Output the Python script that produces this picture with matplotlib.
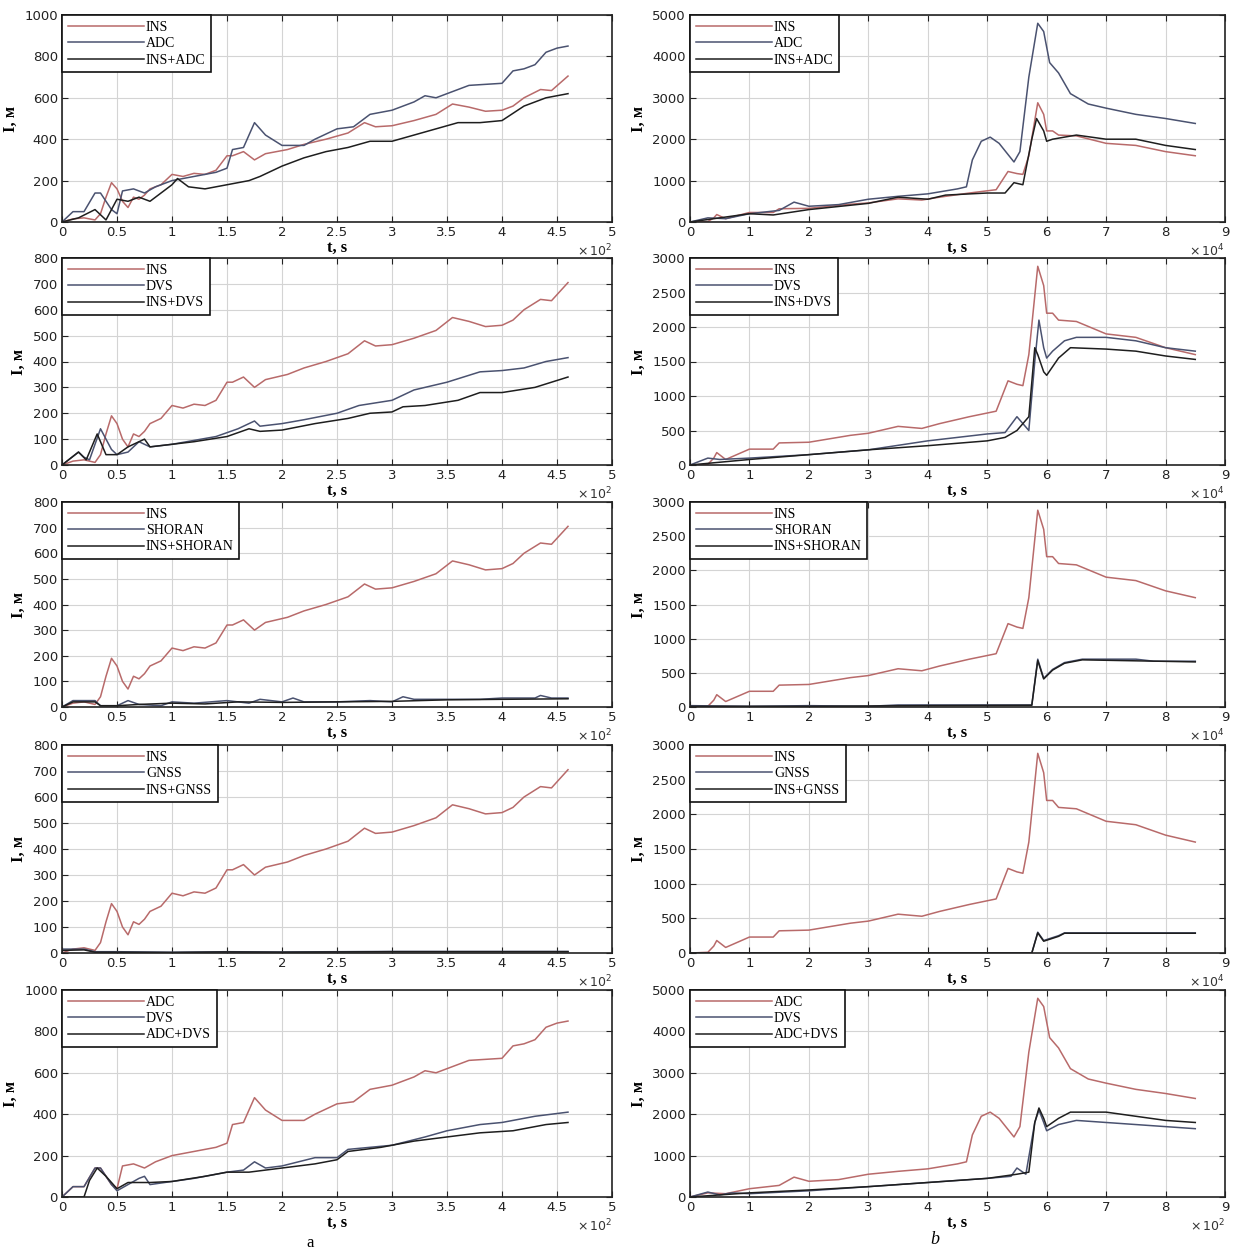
import matplotlib
matplotlib.use("Agg")
import matplotlib.pyplot as plt
import numpy as np

# ---------------- data (x in units of the x-axis multiplier) ----------------
# left column (x ×10^2 s)
ins_a_x = [0, 0.1, 0.2, 0.3, 0.35, 0.4, 0.45, 0.5, 0.55, 0.6, 0.65, 0.7, 0.75, 0.8, 0.9, 1.0, 1.1, 1.2, 1.3, 1.4, 1.5, 1.55, 1.65, 1.75, 1.85, 1.95, 2.05, 2.2, 2.4, 2.6, 2.75, 2.85, 3.0, 3.2, 3.4, 3.55, 3.7, 3.85, 4.0, 4.1, 4.2, 4.35, 4.45, 4.6]
ins_a_y = [0, 15, 20, 10, 40, 120, 190, 160, 100, 70, 120, 110, 130, 160, 180, 230, 220, 235, 230, 250, 320, 320, 340, 300, 330, 340, 350, 375, 400, 430, 480, 460, 465, 490, 520, 570, 555, 535, 540, 560, 600, 640, 635, 705]

adc_a_x = [0, 0.1, 0.2, 0.3, 0.35, 0.45, 0.5, 0.55, 0.65, 0.75, 0.85, 1.0, 1.2, 1.4, 1.5, 1.55, 1.65, 1.75, 1.85, 2.0, 2.2, 2.3, 2.5, 2.65, 2.8, 3.0, 3.2, 3.3, 3.4, 3.7, 4.0, 4.1, 4.2, 4.3, 4.4, 4.5, 4.6]
adc_a_y = [0, 50, 50, 140, 140, 60, 40, 150, 160, 140, 170, 200, 220, 240, 260, 350, 360, 480, 420, 370, 370, 400, 450, 460, 520, 540, 580, 610, 600, 660, 670, 730, 740, 760, 820, 840, 850]

insadc_a_x = [0, 0.15, 0.3, 0.4, 0.5, 0.6, 0.7, 0.8, 0.9, 1.0, 1.05, 1.15, 1.3, 1.5, 1.7, 1.8, 2.0, 2.2, 2.4, 2.6, 2.8, 3.0, 3.2, 3.4, 3.6, 3.8, 4.0, 4.2, 4.4, 4.6]
insadc_a_y = [0, 20, 60, 10, 110, 100, 120, 100, 140, 180, 210, 170, 160, 180, 200, 220, 270, 310, 340, 360, 390, 390, 420, 450, 480, 480, 490, 560, 600, 620]

dvs_a_x = [0, 0.15, 0.2, 0.25, 0.35, 0.45, 0.5, 0.6, 0.7, 0.8, 1.0, 1.2, 1.4, 1.6, 1.75, 1.8, 2.0, 2.2, 2.5, 2.7, 3.0, 3.2, 3.5, 3.8, 4.0, 4.2, 4.4, 4.6]
dvs_a_y = [0, 50, 30, 20, 140, 60, 40, 50, 90, 70, 80, 95, 110, 140, 170, 150, 160, 175, 200, 230, 250, 290, 320, 360, 365, 375, 400, 415]

insdvs_a_x = [0, 0.15, 0.22, 0.32, 0.4, 0.5, 0.6, 0.75, 0.8, 1.0, 1.2, 1.5, 1.7, 1.8, 2.0, 2.3, 2.6, 2.8, 3.0, 3.1, 3.3, 3.6, 3.8, 4.0, 4.3, 4.6]
insdvs_a_y = [0, 50, 20, 120, 40, 40, 70, 100, 70, 80, 90, 110, 140, 130, 135, 160, 180, 200, 205, 225, 230, 250, 280, 280, 300, 340]

shoran_a_x = [0, 0.1, 0.3, 0.35, 0.5, 0.6, 0.7, 0.9, 1.0, 1.2, 1.5, 1.7, 1.8, 2.0, 2.1, 2.2, 2.5, 2.8, 3.0, 3.1, 3.2, 3.5, 3.8, 4.0, 4.3, 4.35, 4.45, 4.6]
shoran_a_y = [0, 25, 25, 5, 5, 25, 10, 5, 20, 15, 25, 15, 30, 20, 35, 20, 20, 25, 20, 40, 30, 30, 30, 35, 35, 45, 35, 35]
insshoran_a_x = [0, 0.1, 0.3, 0.35, 0.5, 0.7, 1.0, 1.3, 1.6, 2.0, 2.5, 3.0, 3.5, 4.0, 4.6]
insshoran_a_y = [0, 20, 20, 5, 5, 10, 15, 12, 20, 18, 20, 22, 28, 30, 32]

gnss_a_x = [0, 0.2, 0.3, 0.5, 1.0, 1.5, 2.0, 2.5, 3.0, 3.5, 4.0, 4.6]
gnss_a_y = [15, 15, 5, 5, 3, 5, 4, 5, 6, 6, 6, 6]
insgnss_a_x = [0, 0.2, 0.3, 0.5, 1.0, 1.5, 2.0, 2.5, 3.0, 3.5, 4.0, 4.6]
insgnss_a_y = [10, 12, 3, 3, 2, 4, 3, 4, 5, 5, 5, 5]

adcdvs_a_x = [0, 0.2, 0.25, 0.32, 0.4, 0.5, 0.6, 0.8, 1.0, 1.3, 1.5, 1.7, 2.0, 2.3, 2.5, 2.6, 2.9, 3.2, 3.5, 3.8, 4.1, 4.4, 4.6]
adcdvs_a_y = [0, 0, 80, 140, 100, 40, 70, 70, 75, 100, 120, 120, 140, 160, 180, 220, 240, 270, 290, 310, 320, 350, 360]
dvs5_a_x = [0, 0.1, 0.2, 0.3, 0.35, 0.45, 0.5, 0.6, 0.7, 0.75, 0.8, 1.0, 1.2, 1.5, 1.65, 1.75, 1.85, 2.0, 2.3, 2.5, 2.6, 3.0, 3.3, 3.5, 3.8, 4.0, 4.3, 4.6]
dvs5_a_y = [0, 50, 50, 140, 140, 60, 30, 60, 90, 100, 60, 75, 90, 120, 130, 170, 140, 150, 190, 190, 230, 250, 290, 320, 350, 360, 390, 410]

# right column (x ×10^4 s)
ins_b_x = [0, 0.3, 0.4, 0.45, 0.6, 1.0, 1.4, 1.5, 2.0, 2.7, 3.0, 3.5, 3.9, 4.2, 4.7, 5.15, 5.35, 5.5, 5.6, 5.7, 5.85, 5.95, 6.0, 6.1, 6.2, 6.5, 7.0, 7.5, 8.0, 8.5]
ins_b_y = [0, 10, 100, 180, 80, 230, 230, 320, 330, 430, 460, 560, 530, 600, 700, 780, 1220, 1170, 1150, 1600, 2880, 2600, 2200, 2200, 2100, 2080, 1900, 1850, 1700, 1600]

adc_b_x = [0, 0.3, 0.6, 1.0, 1.5, 1.75, 2.0, 2.5, 3.0, 3.5, 4.0, 4.5, 4.65, 4.75, 4.9, 5.05, 5.2, 5.45, 5.55, 5.7, 5.85, 5.95, 6.05, 6.2, 6.4, 6.7, 7.0, 7.5, 8.0, 8.5]
adc_b_y = [0, 100, 80, 200, 280, 480, 380, 420, 550, 620, 680, 800, 850, 1500, 1950, 2050, 1900, 1450, 1700, 3500, 4800, 4600, 3850, 3600, 3100, 2850, 2750, 2600, 2500, 2380]

insadc_b_x = [0, 1.0, 1.4, 2.0, 3.0, 3.5, 4.0, 4.3, 5.0, 5.3, 5.45, 5.6, 5.75, 5.83, 5.95, 6.0, 6.1, 6.5, 7.0, 7.5, 8.0, 8.5]
insadc_b_y = [0, 200, 170, 300, 450, 600, 550, 650, 700, 700, 950, 900, 2000, 2500, 2200, 1950, 2000, 2100, 2000, 2000, 1850, 1750]

dvs_b_x = [0, 0.3, 0.5, 1.0, 2.0, 3.0, 4.0, 5.0, 5.3, 5.5, 5.6, 5.7, 5.8, 5.87, 5.95, 6.0, 6.1, 6.3, 6.5, 7.0, 7.5, 8.0, 8.5]
dvs_b_y = [0, 100, 80, 100, 150, 220, 350, 450, 470, 700, 600, 500, 1500, 2100, 1700, 1550, 1650, 1800, 1850, 1850, 1800, 1700, 1650]

insdvs_b_x = [0, 1.0, 2.0, 3.0, 4.0, 5.0, 5.3, 5.5, 5.6, 5.7, 5.8, 5.85, 5.95, 6.0, 6.2, 6.4, 7.0, 7.5, 8.0, 8.5]
insdvs_b_y = [0, 80, 150, 220, 280, 350, 400, 500, 600, 700, 1700, 1600, 1350, 1300, 1550, 1700, 1680, 1650, 1580, 1530]

shoran_b_x = [0, 1.0, 2.0, 3.0, 3.5, 5.75, 5.85, 5.95, 6.1, 6.3, 6.6, 7.5, 7.8, 8.5]
shoran_b_y = [20, 10, 20, 10, 30, 30, 700, 420, 550, 650, 700, 700, 670, 670]
insshoran_b_x = [0, 2.0, 4.0, 5.75, 5.85, 5.95, 6.1, 6.3, 6.6, 8.5]
insshoran_b_y = [10, 10, 20, 25, 680, 410, 540, 640, 690, 660]

gnss_b_x = [0, 5.75, 5.85, 5.95, 6.2, 6.3, 8.5]
gnss_b_y = [0, 0, 300, 180, 250, 290, 290]
insgnss_b_x = [0, 5.75, 5.85, 5.95, 6.2, 6.3, 8.5]
insgnss_b_y = [0, 0, 290, 170, 240, 285, 285]

dvs5_b_x = [0, 0.3, 0.5, 0.7, 1.0, 2.0, 3.0, 4.0, 5.0, 5.4, 5.5, 5.65, 5.8, 5.87, 5.95, 6.0, 6.2, 6.5, 7.0, 7.5, 8.0, 8.5]
dvs5_b_y = [0, 120, 50, 100, 80, 150, 250, 350, 450, 500, 700, 550, 1800, 2100, 1800, 1600, 1750, 1850, 1800, 1750, 1700, 1650]
adcdvs_b_x = [0, 1.0, 2.0, 3.0, 4.0, 5.0, 5.5, 5.7, 5.8, 5.87, 5.95, 6.0, 6.2, 6.4, 7.0, 7.5, 8.0, 8.5]
adcdvs_b_y = [0, 100, 170, 250, 350, 450, 550, 600, 1800, 2150, 1900, 1700, 1900, 2050, 2050, 1950, 1850, 1800]

labels_rows = [["INS", "ADC", "INS+ADC"],
               ["INS", "DVS", "INS+DVS"],
               ["INS", "SHORAN", "INS+SHORAN"],
               ["INS", "GNSS", "INS+GNSS"],
               ["ADC", "DVS", "ADC+DVS"]]

left_series = [
    [(ins_a_x, ins_a_y), (adc_a_x, adc_a_y), (insadc_a_x, insadc_a_y)],
    [(ins_a_x, ins_a_y), (dvs_a_x, dvs_a_y), (insdvs_a_x, insdvs_a_y)],
    [(ins_a_x, ins_a_y), (shoran_a_x, shoran_a_y), (insshoran_a_x, insshoran_a_y)],
    [(ins_a_x, ins_a_y), (gnss_a_x, gnss_a_y), (insgnss_a_x, insgnss_a_y)],
    [(adc_a_x, adc_a_y), (dvs5_a_x, dvs5_a_y), (adcdvs_a_x, adcdvs_a_y)],
]
right_series = [
    [(ins_b_x, ins_b_y), (adc_b_x, adc_b_y), (insadc_b_x, insadc_b_y)],
    [(ins_b_x, ins_b_y), (dvs_b_x, dvs_b_y), (insdvs_b_x, insdvs_b_y)],
    [(ins_b_x, ins_b_y), (shoran_b_x, shoran_b_y), (insshoran_b_x, insshoran_b_y)],
    [(ins_b_x, ins_b_y), (gnss_b_x, gnss_b_y), (insgnss_b_x, insgnss_b_y)],
    [(adc_b_x, adc_b_y), (dvs5_b_x, dvs5_b_y), (adcdvs_b_x, adcdvs_b_y)],
]

left_ylim = [1000, 800, 800, 800, 1000]
left_ystep = [200, 100, 100, 100, 200]
right_ylim = [5000, 3000, 3000, 3000, 5000]
right_ystep = [1000, 500, 500, 500, 1000]
right_exp = ["4", "4", "4", "4", "2"]

colors = ["#b86a6a", "#4a5270", "#1e1e1e"]

# ---------------- layout ----------------
W, H = 1240, 1250
fig = plt.figure(figsize=(12.4, 12.5), dpi=100)
rows_px = [(15, 222), (258, 465), (502, 707), (745, 953), (990, 1197)]
left_px = (62, 612)
right_px = (690, 1225)

serif = ["Liberation Serif", "DejaVu Serif"]

def make_ax(xpx, ypx):
    return fig.add_axes([xpx[0] / W, 1 - ypx[1] / H, (xpx[1] - xpx[0]) / W, (ypx[1] - ypx[0]) / H])

def style(ax, xmax, xstep, ymax, ystep, exp, labels, xticklabels):
    ax.set_xlim(0, xmax)
    ax.set_ylim(0, ymax)
    ax.set_xticks(np.arange(0, xmax + 1e-9, xstep))
    ax.set_xticklabels(xticklabels)
    ax.set_yticks(np.arange(0, ymax + 1e-9, ystep))
    ax.grid(True, color="#d4d4d4", lw=0.8)
    ax.set_axisbelow(True)
    ax.tick_params(direction="in", top=True, right=True, labelsize=9.5, length=4, colors="#222222", pad=3)
    for sp in ax.spines.values():
        sp.set_linewidth(1.2)
        sp.set_color("#222222")
    ax.set_xlabel("t, s", fontsize=12, fontweight="bold", family=serif, labelpad=0.5)
    ax.set_ylabel("I, м", fontsize=12, fontweight="bold", family=serif, labelpad=4)
    ax.text(1.0, -0.1, r"$\times\,10^{%s}$" % exp, transform=ax.transAxes, ha="right", va="top", fontsize=9, color="#333333")
    leg = ax.legend(labels, loc="upper left", borderaxespad=0, fancybox=False, handlelength=5.5,
                    prop={"family": serif, "size": 10}, labelspacing=0.25, borderpad=0.4,
                    handletextpad=0.15, framealpha=1)
    leg.get_frame().set_edgecolor("#111111")
    leg.get_frame().set_linewidth(1.2)

left_xt = ["0", "0.5", "1", "1.5", "2", "2.5", "3", "3.5", "4", "4.5", "5"]
right_xt = [str(i) for i in range(10)]

for i in range(5):
    ax = make_ax(left_px, rows_px[i])
    for k, (xs, ys) in enumerate(left_series[i]):
        ax.plot(xs, ys, color=colors[k], lw=1.1)
    style(ax, 5, 0.5, left_ylim[i], left_ystep[i], "2", labels_rows[i], left_xt)

    ax = make_ax(right_px, rows_px[i])
    for k, (xs, ys) in enumerate(right_series[i]):
        ax.plot(xs, ys, color=colors[k], lw=1.1)
    style(ax, 9, 1, right_ylim[i], right_ystep[i], right_exp[i], labels_rows[i], right_xt)

fig.text(310 / W, 1 - 1243 / H, "a", ha="center", va="center", fontsize=12, family=serif)
fig.text(935 / W, 1 - 1240 / H, "b", ha="center", va="center", fontsize=13, family=serif, style="italic")

fig.savefig("out.png", dpi=100, facecolor="white")
